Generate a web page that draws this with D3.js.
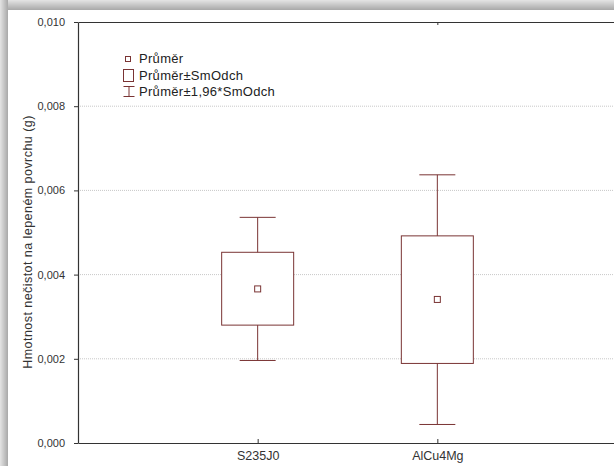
<!DOCTYPE html>
<html>
<head>
<meta charset="utf-8">
<script src="https://cdn.jsdelivr.net/npm/d3@7"></script>
<style>
  html, body { margin: 0; background: #fff; overflow: hidden; }
  svg { display: block; }
  text { font-family: "Liberation Sans", Arial, sans-serif; }
</style>
</head>
<body>
<script>
// Data
var categories = ["S235J0", "AlCu4Mg"];
var means = [0.00366, 0.00341];
var sdLow = [0.00280, 0.00189];
var sdHigh = [0.00453, 0.00492];
var ciLow = [0.00196, 0.00044];
var ciHigh = [0.00536, 0.00637];
var yTicks = [0, 0.002, 0.004, 0.006, 0.008, 0.010];
var legendLabels = ["Průměr", "Průměr±SmOdch", "Průměr±1,96*SmOdch"];

var svgWidth = 614, svgHeight = 466;
var margin = { top: 22, right: -3, bottom: 23, left: 78 };
var chartWidth = svgWidth - margin.left - margin.right;
var chartHeight = svgHeight - margin.top - margin.bottom;
var col = "#7a3434";

var svg = d3.select("body").append("svg")
  .attr("width", svgWidth)
  .attr("height", svgHeight)
  .style("overflow", "hidden");

// frame shadow (top and left)
var defs = svg.append("defs");
var gTop = defs.append("linearGradient").attr("id", "shTop")
  .attr("x1", 0).attr("y1", 0).attr("x2", 0).attr("y2", 1);
gTop.append("stop").attr("offset", "0%").attr("stop-color", "#e4e4e4");
gTop.append("stop").attr("offset", "100%").attr("stop-color", "#a8a8a8");
var gLeft = defs.append("linearGradient").attr("id", "shLeft")
  .attr("x1", 0).attr("y1", 0).attr("x2", 1).attr("y2", 0);
gLeft.append("stop").attr("offset", "0%").attr("stop-color", "#e4e4e4");
gLeft.append("stop").attr("offset", "100%").attr("stop-color", "#a8a8a8");
svg.append("rect").attr("x", 0).attr("y", 0).attr("width", svgWidth).attr("height", 10)
  .attr("fill", "url(#shTop)");
svg.append("rect").attr("x", 0).attr("y", 0).attr("width", 8).attr("height", svgHeight)
  .attr("fill", "url(#shLeft)");

var chartGroup = svg.append("g")
  .attr("transform", `translate(${margin.left}, ${margin.top})`);

var xScale = d3.scalePoint()
  .domain(categories)
  .range([0, chartWidth])
  .padding(1);

var yScale = d3.scaleLinear()
  .domain([0, 0.010])
  .range([chartHeight, 0]);

var fmt = function(d) { return d3.format(".3f")(d).replace(".", ","); };

// grid lines
chartGroup.selectAll(".grid")
  .data(yTicks.filter(d => d > 0 && d < 0.010))
  .enter().append("line")
  .attr("x1", 0).attr("x2", chartWidth)
  .attr("y1", d => yScale(d)).attr("y2", d => yScale(d))
  .attr("stroke", "#c8c8c8")
  .attr("stroke-dasharray", "1,1");

// axes
var leftAxis = d3.axisLeft(yScale).tickValues(yTicks).tickFormat(fmt).tickSize(4).tickSizeOuter(0).tickPadding(9);
var bottomAxis = d3.axisBottom(xScale).tickSize(-4).tickSizeOuter(0).tickPadding(8);
var topAxis = d3.axisTop(xScale).tickSize(-3).tickSizeOuter(0).tickFormat("");

var ly = chartGroup.append("g").call(leftAxis);
var bx = chartGroup.append("g").attr("transform", `translate(0, ${chartHeight})`).call(bottomAxis);
var tx = chartGroup.append("g").call(topAxis);
[ly, bx, tx].forEach(function(a) {
  a.select(".domain").attr("stroke", "#333").attr("stroke-width", 1.2);
  a.selectAll(".tick line").attr("stroke", "#333");
  a.selectAll("text").attr("fill", "#333")
    .style("font-family", '"Liberation Sans", Arial, sans-serif');
});
ly.selectAll("text").style("font-size", "11px");
bx.selectAll("text").style("font-size", "12.5px");
tx.selectAll(".tick").filter((d, i) => i === 0).remove();

// y label
svg.append("text")
  .attr("transform", "translate(32, 242) rotate(-90)")
  .attr("text-anchor", "middle")
  .attr("fill", "#333")
  .style("font-size", "12.5px")
  .style("letter-spacing", "0.45px")
  .text("Hmotnost nečistot na lepeném povrchu (g)");

// whiskers
var boxW = 72, capW = 36;
var boxes = chartGroup.selectAll(".bx")
  .data(categories)
  .enter().append("g");

boxes.append("line")
  .attr("x1", d => xScale(d)).attr("x2", d => xScale(d))
  .attr("y1", (d, i) => yScale(ciHigh[i])).attr("y2", (d, i) => yScale(ciLow[i]))
  .attr("stroke", col);
boxes.append("line")
  .attr("x1", d => xScale(d) - capW / 2).attr("x2", d => xScale(d) + capW / 2)
  .attr("y1", (d, i) => yScale(ciHigh[i])).attr("y2", (d, i) => yScale(ciHigh[i]))
  .attr("stroke", col);
boxes.append("line")
  .attr("x1", d => xScale(d) - capW / 2).attr("x2", d => xScale(d) + capW / 2)
  .attr("y1", (d, i) => yScale(ciLow[i])).attr("y2", (d, i) => yScale(ciLow[i]))
  .attr("stroke", col);
boxes.append("rect")
  .attr("x", d => xScale(d) - boxW / 2)
  .attr("y", (d, i) => yScale(sdHigh[i]))
  .attr("width", boxW)
  .attr("height", (d, i) => yScale(sdLow[i]) - yScale(sdHigh[i]))
  .attr("fill", "#fff")
  .attr("stroke", col);
boxes.append("rect")
  .attr("x", d => xScale(d) - 3)
  .attr("y", (d, i) => yScale(means[i]) - 3)
  .attr("width", 6).attr("height", 6)
  .attr("fill", "#fff")
  .attr("stroke", col);

// legend
var legend = svg.append("g").attr("transform", "translate(123, 0)");
legend.append("rect").attr("x", 2.5).attr("y", 56.5).attr("width", 5).attr("height", 5)
  .attr("fill", "none").attr("stroke", col);
legend.append("rect").attr("x", 0.5).attr("y", 69.5).attr("width", 10).attr("height", 12)
  .attr("fill", "none").attr("stroke", col);
legend.append("line").attr("x1", 6).attr("x2", 6).attr("y1", 86).attr("y2", 97).attr("stroke", col);
legend.append("line").attr("x1", 0.5).attr("x2", 11.5).attr("y1", 86.5).attr("y2", 86.5).attr("stroke", col);
legend.append("line").attr("x1", 0.5).attr("x2", 11.5).attr("y1", 96.5).attr("y2", 96.5).attr("stroke", col);
legend.selectAll(".lt")
  .data(legendLabels)
  .enter().append("text")
  .attr("x", 16)
  .attr("y", (d, i) => 63 + i * 16.5)
  .attr("fill", "#222")
  .style("font-size", "13px")
  .style("letter-spacing", "0.3px")
  .text(d => d);
</script>
</body>
</html>
